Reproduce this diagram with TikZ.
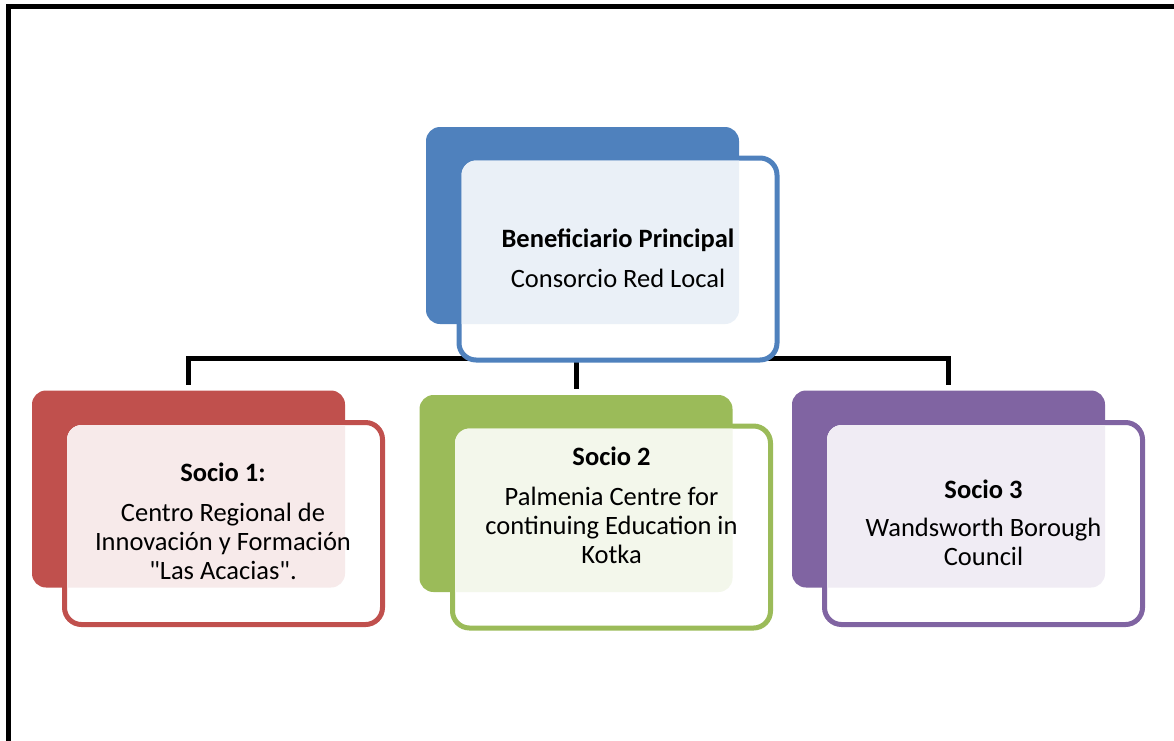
\documentclass[tikz,border=0pt]{standalone}
\usepackage{fontspec}
\setmainfont{Carlito}[Ligatures=TeXOff]
\usetikzlibrary{calc}
\definecolor{cblue}{HTML}{4F81BD}
\definecolor{cred}{HTML}{C0504D}
\definecolor{cgreen}{HTML}{9BBB59}
\definecolor{cpurple}{HTML}{8064A2}
\begin{document}
\begin{tikzpicture}[x=1pt,y=-1pt,
  backbox/.style={fill=#1, draw=none, rounded corners=14pt, minimum width=313pt, minimum height=197pt, inner sep=0pt, outer sep=0pt},
  frontbox/.style={fill=white, draw=#1, line width=5pt, rounded corners=17pt, minimum width=318pt, minimum height=202pt, inner sep=0pt, outer sep=0pt},
  conn/.style={draw=black, line width=5pt, line join=miter},
  boxtext/.style={font=\fontsize{26.5}{29}\selectfont, align=center, anchor=base, inner sep=0pt, text=black}]
\useasboundingbox (0,0) rectangle (1174,740);
% frame
\draw[line width=5pt, line join=miter] (8.5,750) -- (8.5,6.5) -- (1185,6.5);

% back boxes
\node[backbox=cblue]   (mb) at (582.5,225.5) {};
\node[backbox=cred]    (b1) at (188.5,489) {};
\node[backbox=cgreen]  (b2) at (576,493.5) {};
\node[backbox=cpurple] (b3) at (948.5,489) {};

% connectors
\coordinate (hub) at (576,358.5);
\coordinate (c1) at ($(b1.north)+(0,-6)$);
\coordinate (c2) at ($(b2.north)+(0,-6)$);
\coordinate (c3) at ($(b3.north)+(0,-6)$);
\draw[conn] (c1) -- (c1 |- hub) -- (c3 |- hub) -- (c3);
\draw[conn] (hub) -- (c2);
\draw[conn] (mb.south) -- (mb.south |- hub);

% front boxes
\foreach \f/\b/\c/\p in {mf/mb/cblue/{618,259}, f1/b1/cred/{223.5,523.5}, f2/b2/cgreen/{611.5,527}, f3/b3/cpurple/{983.5,523.5}}{
  \node[frontbox=\c] (\f) at (\p) {};
  \begin{scope}
    \clip[rounded corners=14pt] (\b.south west) rectangle (\b.north east);
    \fill[\c!12!white, rounded corners=14.5pt] ($(\f.north west)+(2.5,2.5)$) rectangle ($(\f.south east)+(-2.5,-2.5)$);
  \end{scope}
}

% texts (anchor base = baseline of last line)
\node[boxtext] (t0) at (618,287) {\textbf{Beneficiario Principal}\\[11pt]Consorcio Red Local};
\node[boxtext] (t1) at (223,579) {\textbf{Socio 1:}\\[11pt]Centro Regional de\\Innovación y Formación\\"Las Acacias".};
\node[boxtext] (t2) at (611.5,563) {\textbf{Socio 2}\\[11pt]Palmenia Centre for\\continuing Education in\\Kotka};
\node[boxtext] (t3) at (983.5,565) {\textbf{Socio 3}\\[9pt]Wandsworth Borough\\Council};
\end{tikzpicture}
\end{document}
